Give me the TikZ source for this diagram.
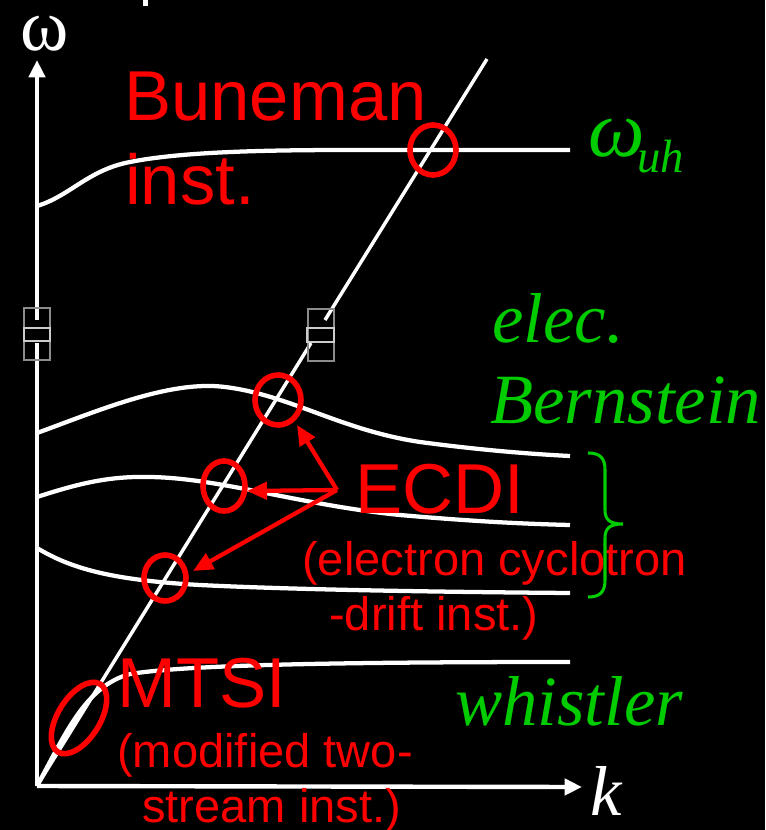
\documentclass[tikz,border=0pt]{standalone}
\usepackage{fontspec}
\newfontfamily\sansf{Liberation Sans}
\newfontfamily\seriff{Liberation Serif}
\usetikzlibrary{arrows.meta}
\definecolor{grn}{RGB}{0,204,0}
\definecolor{brk}{RGB}{140,140,140}
\tikzset{
  curve/.style={white,line width=3.2pt},
  axisline/.style={white,line width=3.3pt},
  diag/.style={white,line width=2.6pt},
  ring/.style={red,line width=4.2pt},
  redarrow/.style={red,line width=3.2pt,-{Triangle[length=15pt,width=13pt]}},
  redbig/.style={text=red,inner sep=0pt,font=\sansf\fontsize{53}{53}\selectfont},
  redsmall/.style={text=red,inner sep=0pt,font=\sansf\fontsize{35.3}{35}\selectfont},
  grntext/.style={text=grn,inner sep=0pt,font=\seriff\itshape\fontsize{53}{53}\selectfont},
  grnsub/.style={text=grn,inner sep=0pt,font=\seriff\itshape\fontsize{35}{35}\selectfont},
  brkbox/.style={draw=brk,line width=0.9pt},
}
\begin{document}
\begin{tikzpicture}[x=0.75pt,y=-0.75pt]
\fill[black] (0,0) rectangle (765,830);
\useasboundingbox (0,0) rectangle (765,830);
% small white fragment at top
\fill[white] (143,0) rectangle (148,6);
% coordinates
\coordinate (O) at (37,786);
\coordinate (Ytop) at (37,60);
\coordinate (Ybrk1) at (37,343);
\coordinate (Ybrk2) at (37,320);
\coordinate (Xend) at (582,787);
\coordinate (D1) at (311,343);
\coordinate (D2) at (325,320);
\coordinate (Dtop) at (487,59);
% dispersion curves
\draw[curve] (37,206) .. controls (70,196) and (88,170) .. (130,162) .. controls (180,152) and (260,150) .. (350,150) -- (570,150);
\draw[curve] (37,433) .. controls (100,410) and (170,380) .. (225,387) .. controls (290,395) and (340,430) .. (420,442) .. controls (480,450) and (530,454) .. (570,456);
\draw[curve] (37,497) .. controls (80,483) and (110,476) .. (150,477) .. controls (220,478) and (300,505) .. (400,515) .. controls (480,522) and (530,524) .. (570,525);
\draw[curve] (37,548) .. controls (70,568) and (110,580) .. (200,585) .. controls (300,590) and (450,592) .. (570,593);
\draw[curve] (O) .. controls (65,735) and (85,686) .. (130,674) .. controls (180,666) and (300,662) .. (570,662);
% axes
\draw[axisline] (O) -- (Ybrk1);
\draw[axisline,-{Triangle[length=13pt,width=12pt]}] (Ybrk2) -- (Ytop);
\draw[axisline,-{Triangle[length=13pt,width=12pt]}] (O) -- (Xend);
% diagonal line
\draw[diag] (O) -- (D1);
\draw[diag] (D2) -- (Dtop);
% break marks
\draw[brkbox] (24,308) rectangle (50,360);
\draw[brkbox,draw=white!80!black] (24,328) rectangle (50,341);
\draw[brkbox] (308,309) rectangle (334,361);
\draw[brkbox,draw=white!80!black] (307,328) rectangle (334,342);
% red rings
\draw[ring] (433,150) ellipse (23 and 25);
\draw[ring] (278,400) ellipse (23 and 25);
\draw[ring] (224,486) ellipse (21 and 25);
\draw[ring] (165,578) ellipse (21 and 23);
\draw[ring,shift={(79,718)},rotate=58] (0,0) ellipse (40 and 21);
% ECDI arrows
\coordinate (E0) at (337,490);
\coordinate (E1) at (297,425);
\coordinate (E2) at (247,491);
\coordinate (E3) at (193,571);
\draw[redarrow] (E0) -- (E1);
\draw[redarrow] (E0) -- (E2);
\draw[redarrow] (E0) -- (E3);
% axis labels
\node[text=white,inner sep=0pt,anchor=base west,text height=0.5em,text depth=0pt,font=\seriff\fontsize{55}{55}\selectfont] (wlab) at (20,51) {ω};
\node[text=white,inner sep=0pt,anchor=base west,font=\seriff\itshape\fontsize{53}{53}\selectfont] (klab) at (590,815) {k};
% red labels
\node[redbig,anchor=base west] (bun) at (124,121) {Buneman};
\node[redbig,anchor=base west] (bun2) at (125,205) {inst.};
\node[redbig,anchor=base west] (ecdi) at (355,513) {ECDI};
\node[redsmall,anchor=base west] (ecdi2) at (302,575) {(electron cyclotron};
\node[redsmall,anchor=base west] (ecdi3) at (329,630) {-drift inst.)};
\node[redbig,anchor=base west] (mtsi) at (117,707) {MTSI};
\node[redsmall,anchor=base west] (mtsi2) at (117,767) {(modified two-};
\node[redsmall,anchor=base west] (mtsi3) at (142,822) {stream inst.)};
% green labels
\node[grntext,anchor=base west,text height=0.5em,text depth=0pt,font=\seriff\itshape\fontsize{60}{60}\selectfont] (wuh) at (588,157) {ω};
\node[grnsub,anchor=base west] (uh) at (637,173) {uh};
\node[grntext,anchor=base west] (elec) at (492,342) {elec.};
\node[grntext,anchor=base west] (bern) at (490,423) {Bernstein};
\node[grntext,anchor=base west] (whis) at (455,725) {whistler};
% brace
\draw[grn,line width=2.3pt] (588,453) .. controls (600,453) and (605,458) .. (605,470) -- (605,510) .. controls (605,520) and (610,524) .. (623,524) .. controls (610,524) and (605,528) .. (605,538) -- (605,580) .. controls (605,592) and (600,597) .. (588,597);
\end{tikzpicture}
\end{document}
